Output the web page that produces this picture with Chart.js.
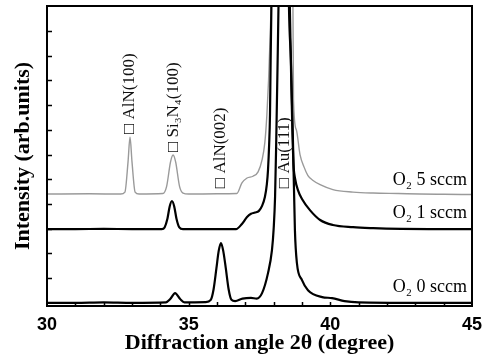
<!DOCTYPE html>
<html>
<head>
<meta charset="utf-8">
<script src="https://cdn.jsdelivr.net/npm/chart.js@4.4.1/dist/chart.umd.min.js"></script>
<style>
  html, body { margin: 0; padding: 0; background: #fff; }
</style>
</head>
<body>
<canvas id="xrd" width="488" height="357"></canvas>
<script>
// 2theta (deg) / intensity (arb. units, one y tick = 1 unit)
const o2_5_x = [30.0, 31.5, 32.6, 32.75, 32.86, 32.93, 33.0, 33.11, 33.25, 34.09, 34.22, 34.36, 34.45, 34.54, 34.68, 34.8, 35.0, 36.0, 36.7, 36.88, 37.06, 37.27, 37.45, 37.59, 37.69, 37.76, 37.82, 37.87, 37.91, 38.30, 38.68, 38.70, 38.80, 38.93, 39.07, 39.21, 39.39, 39.64, 40.09, 40.8, 41.51, 42.4, 43.16, 44.0, 45.0];
const o2_5_y = [4.40, 4.41, 4.40, 4.48, 5.7, 6.71, 5.7, 4.48, 4.40, 4.42, 4.7, 5.7, 5.98, 5.7, 4.7, 4.44, 4.40, 4.41, 4.42, 4.85, 5.05, 5.12, 5.3, 5.78, 6.5, 7.6, 9.0, 10.6, 12.0, 30.0, 12.0, 8.2, 7.0, 6.0, 5.5, 5.15, 4.95, 4.78, 4.58, 4.48, 4.44, 4.42, 4.40, 4.39, 4.38];

const o2_1_x = [30.0, 31.0, 32.0, 33.0, 34.05, 34.15, 34.25, 34.33, 34.41, 34.49, 34.57, 34.67, 34.8, 35.5, 36.3, 36.67, 36.88, 37.06, 37.2, 37.34, 37.48, 37.59, 37.69, 37.76, 37.8, 37.84, 37.87, 37.89, 37.92, 38.25, 38.57, 38.62, 38.66, 38.7, 38.76, 38.86, 39.0, 39.28, 39.64, 40.09, 40.8, 41.51, 42.5, 43.5, 45.0];
const o2_1_y = [2.98, 2.98, 2.99, 2.98, 2.98, 3.05, 3.4, 3.9, 4.12, 3.9, 3.4, 3.05, 2.98, 2.98, 2.98, 2.98, 3.19, 3.47, 3.6, 3.65, 3.72, 3.92, 4.28, 4.8, 5.37, 6.4, 7.6, 9.5, 12.0, 30.0, 12.0, 9.0, 7.0, 5.6, 5.0, 4.55, 4.2, 3.75, 3.35, 3.15, 3.06, 3.02, 2.99, 2.98, 2.98];

const o2_0_x = [30.0, 31.0, 32.0, 33.0, 34.2, 34.35, 34.52, 34.7, 34.85, 35.6, 35.78, 35.88, 35.98, 36.06, 36.14, 36.22, 36.31, 36.41, 36.51, 36.64, 36.9, 37.2, 37.4, 37.59, 37.8, 37.94, 38.0, 38.05, 38.09, 38.14, 38.17, 38.36, 38.54, 38.61, 38.68, 38.75, 38.82, 39.0, 39.21, 39.71, 40.06, 40.5, 41.0, 43.0, 45.0];
const o2_0_y = [0.0, 0.0, 0.02, 0.0, 0.02, 0.15, 0.39, 0.15, 0.02, 0.03, 0.12, 0.55, 1.4, 2.1, 2.42, 2.1, 1.4, 0.55, 0.12, 0.07, 0.17, 0.2, 0.17, 0.39, 1.2, 2.13, 3.0, 4.3, 6.5, 9.8, 12.0, 30.0, 12.0, 9.8, 6.6, 2.94, 1.61, 0.92, 0.51, 0.23, 0.19, 0.07, 0.02, 0.0, 0.0];

const seriesNames = ['O\u2082 5 sccm', 'O\u2082 1 sccm', 'O\u2082 0 sccm'];
const peakNames = ['\u25A1 AlN(100)', '\u25A1 Si\u2083N\u2084(100)', '\u25A1 AlN(002)', '\u25A1 Au(111)'];
const xTickLabels = [30, 35, 40, 45];
const yTicks = [1, 2, 3, 4, 5, 6, 7, 8, 9, 10, 11];

const pts = (xs, ys) => xs.map((v, i) => ({ x: v, y: ys[i] }));

const decor = {
  id: 'decor',
  afterDatasetsDraw(chart) {
    const { ctx, chartArea: a, scales: { x, y } } = chart;
    ctx.save();
    ctx.strokeStyle = '#000';
    ctx.lineWidth = 1.5;
    ctx.beginPath();
    for (let v = 31; v < 45; v++) {
      const px = Math.round(x.getPixelForValue(v)) + 0.5;
      ctx.moveTo(px, a.bottom);
      ctx.lineTo(px, a.bottom - 4);
    }
    yTicks.forEach(v => {
      const py = Math.round(y.getPixelForValue(v)) + 0.5;
      ctx.moveTo(a.left, py);
      ctx.lineTo(a.left + 5, py);
    });
    ctx.stroke();
    ctx.lineWidth = 2;
    ctx.strokeRect(a.left, a.top, a.right - a.left, a.bottom - a.top);

    // series names
    ctx.fillStyle = '#000';
    ctx.font = '18px "Liberation Serif"';
    ctx.textAlign = 'right';
    ctx.textBaseline = 'middle';
    const nameY = [4.97, 3.63, 0.64];
    seriesNames.forEach((t, i) => {
      ctx.fillText(t, x.getPixelForValue(44.82), y.getPixelForValue(nameY[i]));
    });

    // peak labels, vertical
    ctx.font = '17px "Liberation Serif"';
    ctx.fillStyle = '#111';
    ctx.textAlign = 'left';
    const at = [[32.91, 6.83], [34.45, 6.10], [36.14, 4.64], [38.40, 4.64]];
    peakNames.forEach((t, i) => {
      ctx.save();
      ctx.translate(x.getPixelForValue(at[i][0]), y.getPixelForValue(at[i][1]));
      ctx.rotate(-Math.PI / 2);
      ctx.fillText(t, 0, 0);
      ctx.restore();
    });
    ctx.restore();
  }
};

new Chart(document.getElementById('xrd'), {
  type: 'line',
  data: {
    datasets: [
      { label: seriesNames[0], data: pts(o2_5_x, o2_5_y), borderColor: '#9a9a9a', borderWidth: 1.4, order: 3 },
      { label: seriesNames[1], data: pts(o2_1_x, o2_1_y), borderColor: '#000', borderWidth: 2.2, order: 2 },
      { label: seriesNames[2], data: pts(o2_0_x, o2_0_y), borderColor: '#000', borderWidth: 2.2, order: 1 }
    ]
  },
  options: {
    responsive: false,
    animation: false,
    devicePixelRatio: 1,
    layout: { padding: { top: 6, right: 16, left: 0, bottom: 0 } },
    elements: {
      point: { radius: 0 },
      line: { cubicInterpolationMode: 'monotone', capBezierPoints: false, fill: false }
    },
    plugins: { legend: { display: false }, tooltip: { enabled: false } },
    scales: {
      x: {
        type: 'linear',
        min: 30,
        max: 45,
        border: { display: false },
        grid: { display: false },
        afterBuildTicks: s => { s.ticks = xTickLabels.map(v => ({ value: v })); },
        afterFit: s => { s.height = 51; },
        ticks: {
          color: '#000',
          padding: 0,
          maxRotation: 0,
          font: { family: '"Liberation Sans"', size: 18, weight: 'bold' }
        },
        title: {
          display: true,
          text: 'Diffraction angle 2\u03B8 (degree)',
          color: '#000',
          padding: { top: 0, bottom: 0 },
          font: { family: '"Liberation Serif"', size: 22, weight: 'bold' }
        }
      },
      y: {
        type: 'linear',
        min: -0.13,
        max: 12.01,
        border: { display: false },
        grid: { display: false },
        ticks: { display: false },
        afterFit: s => { s.width = 47; },
        title: {
          display: true,
          text: 'Intensity (arb.units)',
          color: '#000',
          padding: { top: 10, bottom: 0 },
          font: { family: '"Liberation Serif"', size: 22, weight: 'bold' }
        }
      }
    }
  },
  plugins: [decor]
});
</script>
</body>
</html>
